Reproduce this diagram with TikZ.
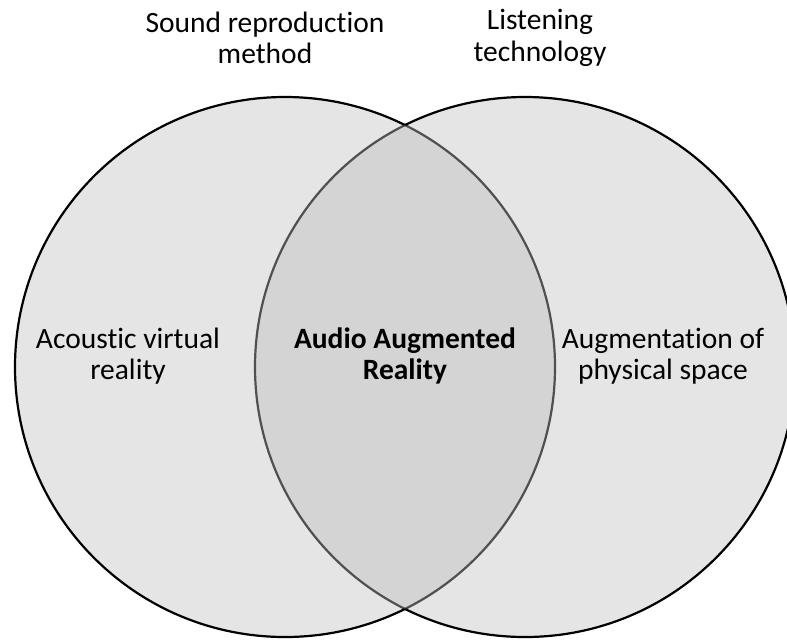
\documentclass[tikz,border=0pt]{standalone}
\usepackage{fontspec}
\setmainfont[Ligatures=NoCommon]{Carlito}
\begin{document}
\begin{tikzpicture}[x=1pt,y=-1pt,
  lbl/.style={align=center,font=\fontsize{29.5}{31.5}\selectfont,inner sep=0pt},
  arcline/.style={line width=2.2pt}]
\definecolor{outerfill}{HTML}{E5E5E5}
\definecolor{lensfill}{HTML}{D4D4D4}
\definecolor{lensline}{HTML}{505050}
\useasboundingbox (0,0) rectangle (787,641);
\begin{scope}
\clip (0,0) rectangle (787,641);
\fill[outerfill] (285,367) circle (270);
\fill[outerfill] (525,367) circle (270);
\begin{scope}
\clip (285,367) circle (270);
\fill[lensfill] (525,367) circle (270);
\draw[lensline,arcline] (525,367) circle (270);
\end{scope}
\begin{scope}
\clip (525,367) circle (270);
\draw[lensline,arcline] (285,367) circle (270);
\end{scope}
\begin{scope}[even odd rule]
\clip (-10,-10) rectangle (800,660) (525,367) circle (270);
\draw[black,arcline] (285,367) circle (270);
\end{scope}
\begin{scope}[even odd rule]
\clip (-10,-10) rectangle (800,660) (285,367) circle (270);
\draw[black,arcline] (525,367) circle (270);
\end{scope}
\end{scope}
\node[lbl] (srm) at (265,38) {Sound reproduction\\method};
\node[lbl] (lt) at (540,38) {Listening\\technology};
\node[lbl] (avr) at (128,356) {Acoustic virtual\\reality};
\node[lbl] (aar) at (405,356) {\bfseries Audio Augmented\\\bfseries Reality};
\node[lbl] (aps) at (663,356) {Augmentation of\\physical space};
\end{tikzpicture}
\end{document}
